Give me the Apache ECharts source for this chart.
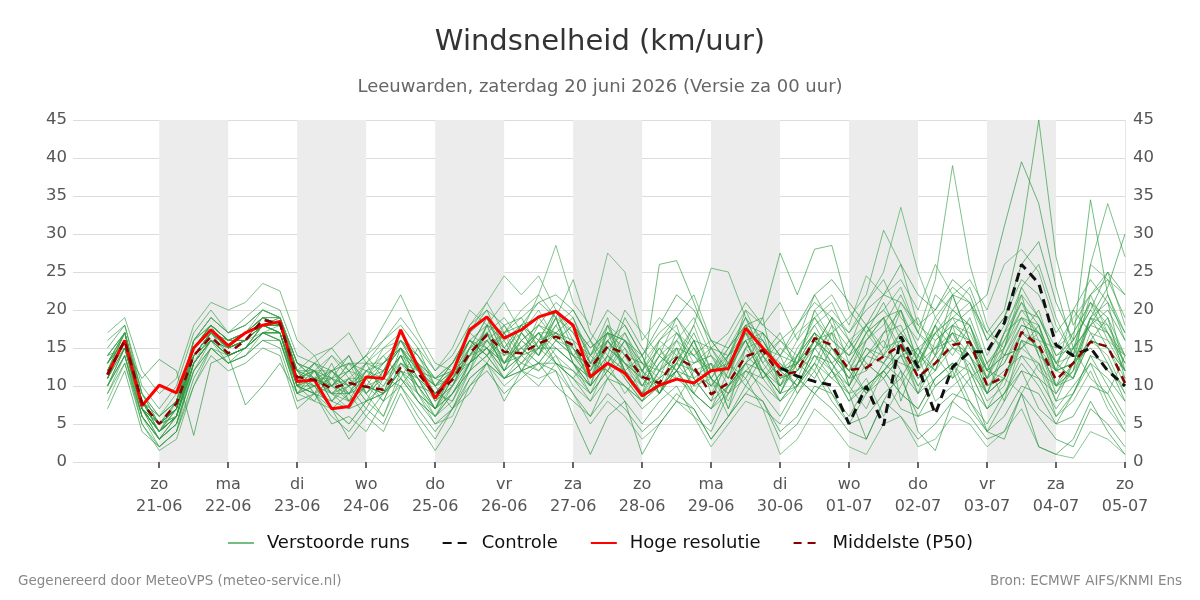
<!DOCTYPE html>
<html>
<head>
<meta charset="utf-8">
<script src="https://cdn.jsdelivr.net/npm/echarts@6/dist/echarts.min.js"></script>
<style>
html, body { margin: 0; padding: 0; background: #fff; }
#chart { width: 1200px; height: 600px; }
</style>
</head>
<body>
<div id="chart"></div>
<script>
// x-as in uren t.o.v. zo 21-06 00:00; data 6-uurlijks vanaf 20-06 06:00
var baseDate = new Date(2026, 5, 21, 0);
var startHour = -18;
var stepHours = 6;
var axisMin = -30;
var axisMax = 336;
var dayNames = ['zo', 'ma', 'di', 'wo', 'do', 'vr', 'za'];
var dayTicks = [0, 24, 48, 72, 96, 120, 144, 168, 192, 216, 240, 264, 288, 312, 336];
var shadedDays = [0, 48, 96, 144, 192, 240, 288];

// Hoge resolutie (t/m 30-06 00u)
var hres = [11.5,16,7.4,10.1,9.1,15,17.4,15.3,17,18,
  18.5,10.6,10.8,7,7.3,11.2,11,17.4,12.5,8.4,
  11.7,17.4,19.1,16.3,17.4,19.1,19.8,18,11.2,13,
  11.7,8.7,10.1,10.9,10.4,12,12.3,17.6,15,12.4];
// Controle (zichtbaar na einde hoge resolutie)
var controle = [null,null,null,null,null,null,null,null,null,null,
  null,null,null,null,null,null,null,null,null,null,
  null,null,null,null,null,null,null,null,null,null,
  null,null,null,null,null,null,null,null,null,12.4,
  11.3,10.6,10.1,5,10,4.8,16.5,12.5,6.3,12.5,
  14.5,14.5,18.3,26,23.5,15.4,14,15,12,10];
// Middelste (P50)
var p50 = [11.5,16,7.8,5,7.7,14,16.5,14.3,16,18.7,
  18.2,11.2,10.8,9.7,10.4,9.9,9.5,12.4,11.7,8.8,
  10.8,14.3,16.7,14.5,14.3,15.6,16.5,15.4,12.4,15.2,
  14.3,11.2,10.4,13.7,12.5,8.9,10.4,13.9,14.7,11.4,
  11.9,16.3,15.4,12.1,12.4,13.9,15.4,11.2,13,15.4,
  15.8,10.1,11.2,17.1,15.4,10.8,13,15.8,15.2,10.4];

// Verstoorde runs (geschat uit de figuur)
var runs = [
 [13,17,8,4,6,15,18,16,17,19,18, 12,9,13,8,12,14,11,15,10,7, 12,18,13,17,14,20,16,10,18,12, 9,16,18,11,13,7,15,19,9,14, 17,12,10,16,19,8,14,18,11,16, 9,15,22,14,8,13,19,21,12],
 [10,15,7,3,5,12,16,14,15,18,17, 10,12,8,11,9,6,12,8,6,10, 15,13,17,12,16,13,11,14,19,11, 8,12,15,9,7,12,16,11,14,9, 13,18,10,7,12,15,9,16,18,11, 13,8,16,12,10,15,11,9,14],
 [15,18,9,6,8,16,19,17,18,20,19, 13,11,12,14,10,13,16,12,11,13, 17,20,15,18,21,19,17,13,16,18, 14,9,13,17,12,14,19,16,12,10, 15,19,16,12,17,20,13,18,22,16, 11,17,19,14,12,20,17,13,8],
 [11,16,6,2,4,13,17,15,16,18,17, 9,10,7,5,8,9,14,10,6,9, 13,15,11,14,12,14,10,8,13,9, 12,10,8,12,11,6,9,12,8,11, 9,12,8,11,6,10,14,8,10,12, 7,11,9,13,6,8,12,7,4],
 [12,17,8,5,7,14,17,15,17,19,18, 11,10,12,9,11,8,13,11,9,12, 14,17,13,16,18,17,15,12,15,13, 11,14,12,15,10,13,17,14,11,13, 16,13,15,18,14,17,19,14,22,21, 17,20,30,45,27,18,22,24,19],
 [13,16,7,4,8,15,18,14,15,18,19, 13,12,9,11,8,12,15,9,7,11, 15,17,12,14,19,16,18,14,12,15, 10,14,12,16,11,9,13,17,10,14, 12,17,14,16,18,22,17,24,39,26, 18,14,15,17,13,11,16,15,12],
 [12,15,7,5,6,14,16,15,16,18,18, 10,13,11,14,9,11,10,13,9,8, 13,18,16,12,15,19,13,11,17,12, 14,9,13,10,15,12,16,11,13,10, 15,12,16,13,11,14,15,12,18,20, 22,31,39.5,34,23,15,18,20,16],
 [11,16,8,6,9,14,17,16,16,17,18, 12,9,10,12,11,14,16,13,11,12, 16,14,18,15,13,16,15,11,13,17, 12,15,11,13,14,10,15,12,9,14, 18,20,17,21,25,33.5,25,19,16,14, 10,11,17,16,12,11,17,16,12],
 [14,17,9,5,7,16,18,16,17,19,18, 11,12,10,9,13,12,15,12,10,13, 17,15,12,17,14,18,14,16,11,14, 13,10,15,14,12,13,16,17,14,13, 16,14,11,15,13,17,14,12,18,16, 12,14,18,17,13,16,34.5,22,17],
 [10,14,6,3,6,13,16,13,15,17,17, 10,11,9,7,10,8,13,10,7,9, 12,16,13,15,17,14,12,9,14,11, 8,12,11,9,13,7,12,14,10,12, 14,11,13,9,12,15,10,14,11,13, 8,10,16,15,9,12,26,34,27],
 [12,16,7,4,7,15,17,15,16,19,18, 11,13,12,10,12,11,14,10,9,11, 14,17,15,13,16,17,19,13,12,16, 11,9,14,12,10,13,11,15,12,14, 17,13,10,14,16,12,9,13,17,14, 9,11,17,15,10,12,19,23,30],
 [13,17,8,5,8,16,19,17,18,20,19, 13,12,14,11,13,15,17,14,11,12, 18,21,17,20,22,28.5,21,18,27.5,25, 16,19,17,15,12,16,20,15,14,17, 19,21,16,18,20,23,17,15,19,21, 14,18,22,19,15,17,21,18,14],
 [12,16,8,5,7,14,17,15,16,18,18, 12,10,11,9,12,13,15,12,10,11, 16,14,16,18,15,17,16,14,16,13, 10,13,16,14,11,14,18,19,27.5,22, 28,28.5,20,17,19,20,15,17,19,18, 13,15,20,19,14,15,21,19,14],
 [11,15,7,4,6,14,16,14,15,18,17, 10,11,10,8,10,9,12,11,7,10, 13,16,14,15,13,16,14,11,15,13, 9,11,13,12,10,10,13,15,11,12, 16,17,19,22,30.5,26,18,16,18,17, 12,14,19,18,12,13,19,18,13],
 [9,13,5,2,4,11,15,13,14,16,15, 8,9,6,4,7,5,10,7,4,7, 10,12,9,11,13,10,8,6,9,7, 4,6,9,7,3,6,10,8,3,5, 9,7,4,3,8,6,3,5,8,6, 3,4,9,6,3,2,7,5,2],
 [8,13,6,3,5,12,15,14,15,17,16, 9,8,7,5,8,6,11,9,5,6, 11,13,10,12,11,12,9,5,8,6, 3,5,8,6,2,5,8,7,1,3, 7,5,2,1,5,6,2,3,6,5, 2,4,7,2,1,0.5,4,3,1],
 [16,18,10,7,10,17,20,17,19,21,20, 14,13,15,12,14,16,18,15,12,14, 18,20,18,19,21,22,20,16,20,18, 14,17,19,16,15,17,21,18,16,18, 21,19,17,20,22,21,18,20,23,21, 16,19,24,22,17,20,24,21,17],
 [9,14,5,1.5,3,10,15,13,14,17,16, 9,11,9,8,10,9,12,9,6,8, 12,14,11,13,15,13,11,9,12,10, 8,10,12,9,7,9,12,11,8,10, 13,11,9,10,12,14,9,11,13,12, 7,9,14,13,8,9,14,13,9],
 [14,15,11,13.5,12,3.5,13,14,7.5,10,13, 9,12,8,10,13,9,15,11,7,12, 13,17,12,16,14,19,13,10,16,12, 9,13,15,11,8,14,16,12,9,13, 15,17,10,14,13,16,11,14,17,12, 9,14,15,18,10,13,16,19,11],
 [13,17,9,6,8,15,18,16,17,20,19, 12,14,10,13,9,12,16,13,8,11, 15,19,14,18,16,20,17,13,18,14, 11,15,17,13,14,11,18,15,12,16, 19,15,13,17,14,20,13,17,19,15, 11,16,20,17,13,17,21,16,14],
 [12,16,7,4,6,14,17,15,16,18,18, 11,12,9,10,11,13,15,11,9,12, 16,15,17,14,18,16,14,12,16,13, 11,26,26.5,21,15,14,17,16,12,13, 17,15,12,14,17,18,13,15,17,16, 11,13,18,17,12,13,18,17,12],
 [11,16,7,4,6,13,16,14,15,18,17, 10,9,11,8,10,11,13,12,8,10, 14,16,13,15,17,15,13,11,14,12, 10,11,13,18,25.5,25,19,14,11,12, 16,14,11,12,15,16,11,13,15,14, 9,11,16,15,10,11,16,15,10],
 [10,15,6,3,5,13,16,14,15,17,17, 10,9,8,7,8,9,11,8,5,7, 11,13,11,12,13,12,6,1,6,8, 1,5,8,7,3,6,9,8,4,6, 10,9,5,6,9,11,6,7,9,8, 4,6,10,9,5,6,10,9,5],
 [14,17,9,5,7,16,19,17,18,20,19, 13,12,12,13,13,13,16,14,11,13, 17,21,24.5,22,24.5,20,18,15,17,16, 13,16,14,18,12,15,19,14,16,13, 20,16,14,18,15,21,17,14,20,18, 12,17,21,16,15,19,22,17,14],
 [12,16,7,4,6,14,17,15,16,18,17, 10,9,7,3,6,4,9,5,1.5,5, 10,13,11,12,13,13,11,8,11,10, 7,9,12,8,5,10,13,9,6,10, 13,9,6,10,12,9,7,11,13,8, 5,9,13,10,6,9,14,10,6],
 [13,17,8,5,7,15,18,16,17,19,19, 12,11,11,12,14,18,22,17,13,12, 15,19,14,18,16,20,15,12,17,14, 10,14,16,12,13,11,17,13,10,15, 18,14,12,16,19,15,13,17,14,18, 12,11,17,20,13,11,19,15,11],
 [11,15,7,4,6,13,16,14,15,17,16, 10,10,9,9,10,9,12,10,7,9, 13,15,13,14,15,15,13,10,13,12, 9,10,12,11,8,10,13,12,9,10, 14,13,9,3,8,12,4,1.5,8,11, 4,3,9,2,1,3,8,4,1],
 [12,17,8,4,7,14,17,15,16,19,18, 11,12,10,11,11,11,14,12,9,11, 14,18,13,17,15,19,14,11,16,13, 12,15,12,16,9,13,17,12,15,13, 20,22,18,24.5,22,24,20,26,22,24, 20,26,28,25,18,14,26,24,22],
 [7,12,4,2,4,10,14,12,13,15,14, 7,9,5,6,4,8,10,6,3,7, 9,13,8,12,10,13,9,6,11,8, 5,8,10,6,4,9,11,7,5,9, 12,8,5,9,11,7,6,10,12,7, 4,8,12,7,5,9,13,8,4],
 [17,19,12,9,11,18,21,20,21,23.5,22.5, 16,14,15,17,13,16,19,16,12,15, 20,18,21,17,22,19,24,17,14,20, 17,14,19,22,16,13,20,18,21,16, 22,18,15,21,24,19,16,22,20,23, 17,15,23,26,19,14,22,25,18],
 [13,16,8,5,7,15,18,16,16,18,18, 12,12,11,10,11,12,15,13,10,12, 16,18,17,18,19,20,18,15,17,16, 14,18,22,20,16,15,18,17,14,18, 22,24,21,18,22,26,22,20,24,22, 16,19,26,29,21,16,20,25,22],
 [10,14,7,5,6,13,16,14,15,17,17, 10,12,9,11,8,10,13,11,8,10, 14,15,13,16,14,17,15,11,14,12, 9,12,14,10,11,8,13,15,12,10, 14,12,9,13,11,14,10,12,15,13, 9,11,15,13,10,12,16,14,9],
 [12,16,7,3,6,13,16,15,16,18,17, 11,13,10,12,14,11,16,14,10,13, 16,14,17,19,15,18,20,16,13,19, 15,12,17,14,16,13,10,14,17,12, 15,19,13,17,21,16,12,18,15,19, 13,16,21,18,12,15,18,22,16],
 [14,17,8,4,7,16,18,16,17,19,19, 13,11,14,12,9,12,17,12,9,12, 14,17,19,16,18,21,19,14,17,15, 12,16,19,15,11,15,18,13,16,14, 19,16,14,18,20,17,14,19,22,16, 12,17,23,19,14,16,20,17,13],
 [11,16,7,5,7,14,17,14,15,17,17, 10,8,12,10,7,11,14,9,7,11, 13,15,12,14,17,13,12,10,13,16, 12,9,12,16,11,9,14,12,10,13, 11,15,12,9,13,11,15,10,12,16, 10,12,14,11,9,13,15,12,10],
 [13,16,8,6,8,14,17,16,17,19,18, 11,10,12,13,11,15,16,12,10,12, 17,19,15,17,20,16,18,14,18,16, 13,11,16,19,14,12,17,15,13,11, 16,14,12,17,19,14,13,17,20,18, 11,15,19,17,13,14,19,17,13],
 [10,14,6,3,5,12,15,13,14,16,16, 9,10,7,9,6,9,11,8,6,9, 12,14,11,13,12,15,13,9,12,10, 8,10,12,9,7,10,12,10,8,11, 9,12,8,10,12,9,7,11,13,10, 7,9,12,11,7,10,13,11,8],
 [12,17,8,5,8,15,18,16,16,18,19, 12,11,10,13,12,10,14,13,11,10, 15,16,18,14,17,17,14,13,15,17, 13,12,14,13,15,11,15,16,12,13, 17,15,11,15,14,13,12,15,16,14, 11,13,17,15,12,13,16,15,12]
];
var runColors = ['#2b9a3c', '#3aa04a', '#23903a', '#45a854'];

function pairs(arr) {
    var out = [];
    for (var i = 0; i < arr.length; i++) {
        out.push([startHour + i * stepHours, arr[i]]);
    }
    return out;
}

var areas = [];
for (var k = 0; k < shadedDays.length; k++) {
    areas.push([{ xAxis: shadedDays[k] }, { xAxis: shadedDays[k] + 24 }]);
}

var series = [];
series.push({
    type: 'line', data: [], silent: true,
    markArea: { silent: true, itemStyle: { color: '#ececec' }, data: areas }
});
for (var r = 0; r < runs.length; r++) {
    series.push({
        name: 'Verstoorde runs', type: 'line', data: pairs(runs[r]),
        showSymbol: false, symbol: 'none', silent: true,
        lineStyle: { width: 1, color: runColors[r % runColors.length], opacity: 0.65 },
        itemStyle: { color: '#5dbb63' }
    });
}
series.push({
    name: 'Controle', type: 'line', data: pairs(controle), symbol: 'none',
    lineStyle: { width: 3, color: '#111', type: [9, 6] }, itemStyle: { color: '#111' }
});
series.push({
    name: 'Hoge resolutie', type: 'line', data: pairs(hres), symbol: 'none',
    lineStyle: { width: 3, color: '#ff0000' }, itemStyle: { color: '#ff0000' }
});
series.push({
    name: 'Middelste (P50)', type: 'line', data: pairs(p50), symbol: 'none',
    lineStyle: { width: 2.5, color: '#8b0000', type: [8, 6] }, itemStyle: { color: '#8b0000' }
});

var font = 'DejaVu Sans';
var myChart = echarts.init(document.getElementById('chart'));
var option = {
    animation: false,
    textStyle: { fontFamily: font },
    title: [
        { text: 'Windsnelheid (km/uur)', left: 'center', top: 23,
          textStyle: { fontSize: 29, fontWeight: 'normal', color: '#333', fontFamily: font } },
        { text: 'Leeuwarden, zaterdag 20 juni 2026 (Versie za 00 uur)', left: 'center', top: 73,
          textStyle: { fontSize: 18, fontWeight: 'normal', color: '#666', fontFamily: font } },
        { text: 'Gegenereerd door MeteoVPS (meteo-service.nl)', left: 13, top: 569,
          textStyle: { fontSize: 13.5, fontWeight: 'normal', color: '#888', fontFamily: font } },
        { text: 'Bron: ECMWF AIFS/KNMI Ens', right: 13, top: 569,
          textStyle: { fontSize: 13.5, fontWeight: 'normal', color: '#888', fontFamily: font } }
    ],
    legend: {
        data: ['Verstoorde runs', 'Controle', 'Hoge resolutie', 'Middelste (P50)'],
        top: 529, left: 'center', itemWidth: 26, itemHeight: 14, itemGap: 32,
        itemStyle: { opacity: 0 },
        textStyle: { fontSize: 18, color: '#111', fontFamily: font, padding: [0, 0, 0, 8] }
    },
    grid: { left: 73, right: 75, top: 120, bottom: 138 },
    xAxis: {
        type: 'value', min: axisMin, max: axisMax,
        axisLine: { show: false },
        axisTick: { show: true, customValues: dayTicks, length: 6, lineStyle: { color: '#666', width: 2 } },
        splitLine: { show: false },
        axisLabel: {
            customValues: dayTicks, fontSize: 16, color: '#555', lineHeight: 22, margin: 12,
            formatter: function (v) {
                var dt = new Date(baseDate.getTime() + v * 3600000);
                var dd = ('0' + dt.getDate()).slice(-2);
                var mm = ('0' + (dt.getMonth() + 1)).slice(-2);
                return dayNames[dt.getDay()] + '\n' + dd + '-' + mm;
            }
        }
    },
    yAxis: [
        { type: 'value', min: 0, max: 45, interval: 5,
          axisLine: { show: false }, axisTick: { show: false },
          axisLabel: { fontSize: 16.5, color: '#555', margin: 6 },
          splitLine: { lineStyle: { color: '#dcdcdc' } } },
        { type: 'value', min: 0, max: 45, interval: 5, position: 'right',
          axisLine: { show: true, lineStyle: { color: '#e6e6e6' } }, axisTick: { show: false },
          axisLabel: { fontSize: 16.5, color: '#555', margin: 8 },
          splitLine: { show: false } }
    ],
    series: series
};
myChart.setOption(option);
</script>
</body>
</html>
